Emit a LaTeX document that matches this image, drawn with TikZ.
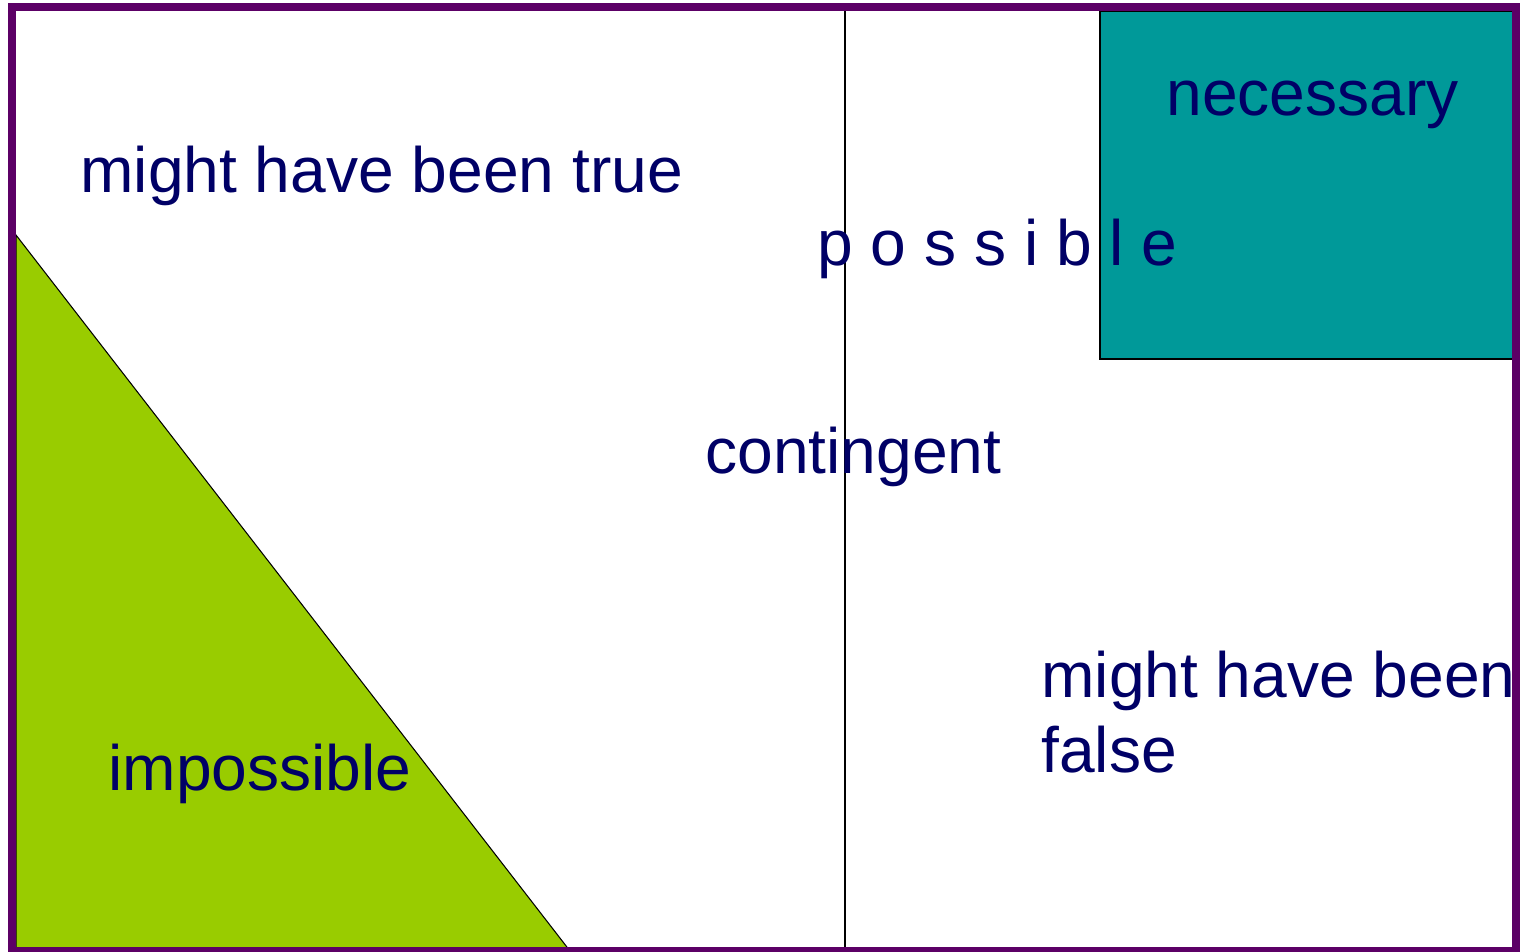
\documentclass[tikz,border=0pt]{standalone}
\usepackage{fontspec}
\setmainfont{Liberation Sans}
\usepackage{tikz}
\definecolor{framepurple}{HTML}{5C0066}
\definecolor{labelnavy}{HTML}{000066}
\definecolor{necteal}{HTML}{009999}
\definecolor{impgreen}{HTML}{99CC00}
\tikzset{
    modal label/.style={
        anchor=base west,
        inner sep=0pt,
        text=labelnavy,
        align=left,
        font=\fontsize{36.5}{42.5}\selectfont
    },
    modal frame/.style={draw=framepurple, line width=4.5pt},
    modal edge/.style={draw=black, line width=0.6pt}
}

\begin{document}
\begin{tikzpicture}[x=0.02cm, y=-0.02cm]
\useasboundingbox (0,0) rectangle (1520,951);

% regions
\filldraw[modal edge, fill=necteal] (1100,11) rectangle (1516,359);
\filldraw[modal edge, fill=impgreen] (16,235) -- (16,951) -- (570,951) -- cycle;
\draw[modal edge] (845,11) -- (845,951);

% outer frame
\draw[modal frame] (12,7) rectangle (1516,951);

% labels
\node[modal label] (true) at (80,192) {might have been true};
\node[modal label] (nec) at (1166,115) {necessary};
\node[modal label] (poss) at (817,265) {p o s s i b l e};
\node[modal label] (cont) at (705,473) {contingent};
\node[modal label] (false) at (1041,772) {might have been\\false};
\node[modal label] (imp) at (108,790) {impossible};
\end{tikzpicture}
\end{document}
